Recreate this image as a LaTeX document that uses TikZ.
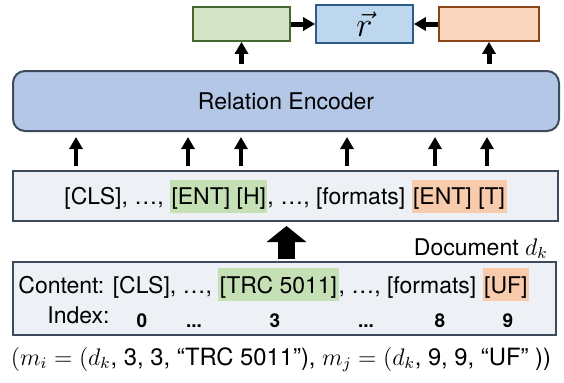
\documentclass[tikz,border=0pt]{standalone}
\usepackage{fontspec}
\setmainfont{TeX Gyre Heros}
\usetikzlibrary{arrows.meta}

\definecolor{encfill}{HTML}{B4C7E7}
\definecolor{boxline}{HTML}{3F4A5C}
\definecolor{seqfill}{HTML}{EDF0F5}
\definecolor{hgreen}{HTML}{C5E0B4}
\definecolor{horange}{HTML}{F8CBAD}
\definecolor{headfill}{HTML}{D3E5C6}
\definecolor{headline}{HTML}{46682E}
\definecolor{relfill}{HTML}{BDD7EE}
\definecolor{relline}{HTML}{2E5C8A}
\definecolor{tailfill}{HTML}{FAD6BE}
\definecolor{tailline}{HTML}{8A4418}

% evidenziatori per le menzioni
\newcommand{\hlg}[1]{{\setlength{\fboxsep}{0.7pt}\colorbox{hgreen}{\rule[-3.3pt]{0pt}{15.1pt}#1}}}
\newcommand{\hlo}[1]{{\setlength{\fboxsep}{0.7pt}\colorbox{horange}{\rule[-3.3pt]{0pt}{15.1pt}#1}}}
\newcommand{\idxdots}{...}

\begin{document}
\begin{tikzpicture}[
        x=0.5pt, y=-0.5pt,
        font=\fontsize{11.5}{13.8}\selectfont,
        % Stili
        encoder/.style={rectangle, rounded corners=6pt, draw=boxline, line width=1pt, fill=encfill, minimum width=273pt, minimum height=30pt},
        seqbox/.style={rectangle, draw=boxline, line width=1pt, fill=seqfill, inner sep=0pt},
        small/.style={rectangle, line width=0.85pt, minimum width=48.5pt, minimum height=17pt},
        arrow/.style={line width=2pt, -{Triangle[width=6.5pt,length=6pt]}},
        bigarrow/.style={line width=8.5pt, -{Triangle[width=19.5pt,length=8pt]}},
        num/.style={anchor=base, font=\fontsize{9.5}{11}\selectfont\bfseries}
    ]
    \useasboundingbox (0,0) rectangle (564,382);

    % Nodi
    \node (head) [small, draw=headline, fill=headfill] at (241.5,24) {};
    \node (rel) [small, draw=relline, fill=relfill, minimum height=19pt, inner sep=0pt] at (364.5,24) {\fontsize{16}{18}\selectfont$\vec{r}$};
    \node (tail) [small, draw=tailline, fill=tailfill, minimum width=50pt] at (489,24) {};

    \node (enc) [encoder] at (286,101) {Relation Encoder};

    \node (seq) [seqbox, minimum width=272.5pt, minimum height=25pt] at (285.5,196)
        {[CLS], …, \hlg{[ENT] [H]}, …, [formats] \hlo{[ENT] [T]}};

    \node (docname) [anchor=base east, inner sep=0pt] at (548,255) {Document $d_k$};

    \node (doc) [seqbox, minimum width=271.5pt, minimum height=36.5pt] at (284.5,298.5) {};
    \node (content) [anchor=base west, inner sep=0pt] at (18,293)
        {Content: [CLS], …, \hlg{[TRC 5011]}, …, [formats] \hlo{[UF]}};
    \node (index) [anchor=base west, inner sep=0pt] at (47,323) {Index:};
    \foreach \x/\t [count=\i] in {142/0, 194/\idxdots, 275/3, 366/\idxdots, 440/8, 508/9}
        \node (n\i) [num] at (\x,327) {\t};

    \node (mentions) [anchor=base, inner sep=0pt, font=\fontsize{11.9}{14}\selectfont] at (281,365)
        {$(m_i = (d_k$, 3, 3, “TRC 5011”), $m_j = (d_k$, 9, 9, “UF” ))};

    % Collegamenti
    \foreach \x in {76,188,241,347,435,487}
        \draw [arrow, shorten <=2pt, shorten >=2.5pt] (seq.north -| \x,0) -- (enc.south -| \x,0);

    \draw [arrow, line width=2.5pt, shorten <=3pt] (enc.north -| head.south) -- (head.south);
    \draw [arrow, line width=2.5pt, shorten <=3pt] (enc.north -| tail.south) -- (tail.south);
    \draw [arrow, line width=2.5pt] (head.east) -- (rel.west);
    \draw [arrow, line width=2.5pt] (tail.west) -- (rel.east);

    \draw [bigarrow, shorten <=1pt, shorten >=2pt] (doc.north -| 286.5,0) -- (seq.south -| 286.5,0);

\end{tikzpicture}
\end{document}
